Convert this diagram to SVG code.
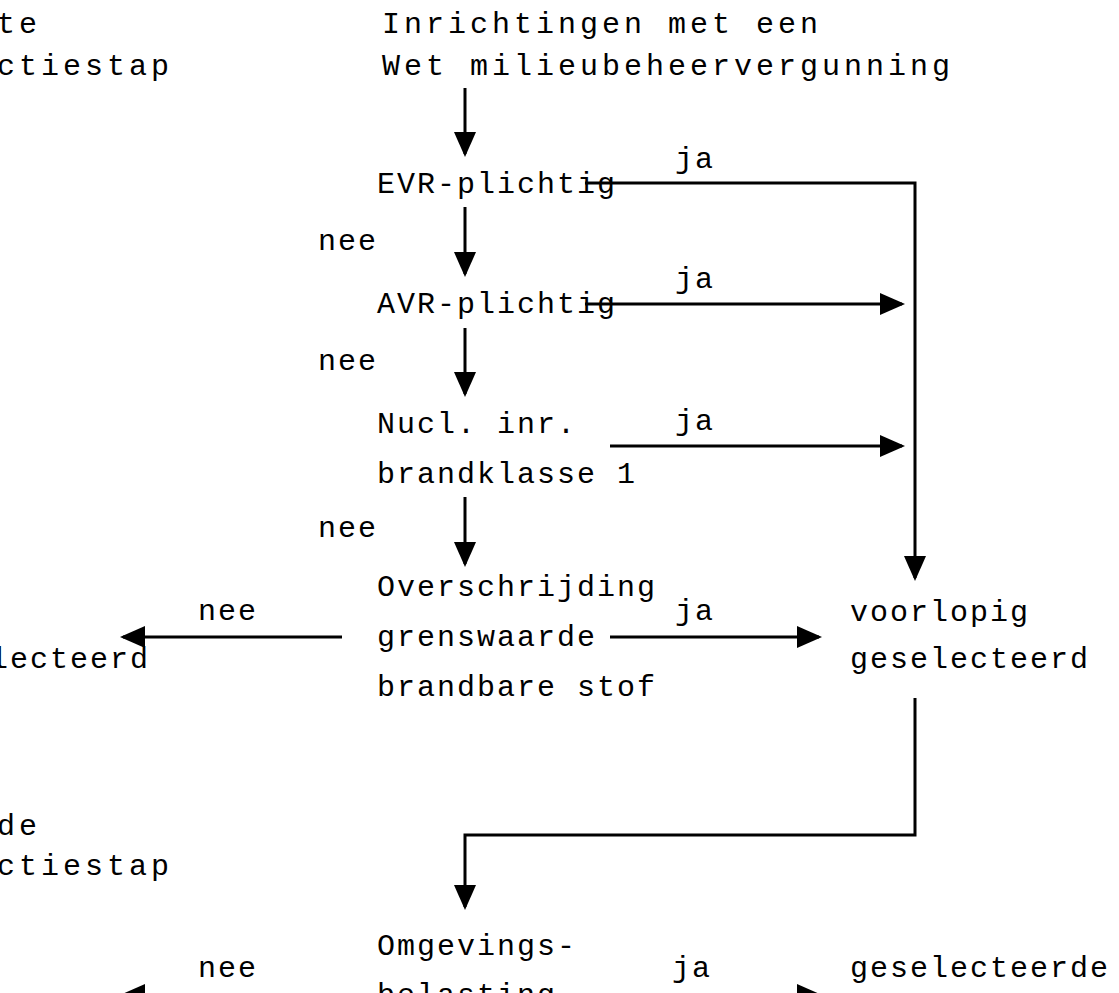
<svg xmlns="http://www.w3.org/2000/svg" width="1119" height="993" viewBox="0 0 1119 993">
<style>
.t{font-family:"Liberation Mono","Courier New",monospace;font-size:30px;letter-spacing:2px;fill:#000}
.w{letter-spacing:4px}
.c{stroke:#000;stroke-width:3;fill:none}
</style>
<defs>
<marker id="ah" markerUnits="userSpaceOnUse" markerWidth="26" markerHeight="22" refX="22" refY="11" orient="auto">
<path d="M0,0 L25,11 L0,22 z" fill="#000"/>
</marker>
</defs>
<rect width="1119" height="993" fill="#fff"/>
<g id="connectors">
<path class="c" marker-end="url(#ah)" d="M465,88 V154"/>
<path class="c" marker-end="url(#ah)" d="M465,207 V274"/>
<path class="c" marker-end="url(#ah)" d="M465,328 V394"/>
<path class="c" marker-end="url(#ah)" d="M465,497 V564"/>
<path class="c" marker-end="url(#ah)" d="M585,183 H915 V578"/>
<path class="c" marker-end="url(#ah)" d="M585,304 H902"/>
<path class="c" marker-end="url(#ah)" d="M610,446 H902"/>
<path class="c" marker-end="url(#ah)" d="M610,637 H819"/>
<path class="c" marker-end="url(#ah)" d="M342,637 H123"/>
<path class="c" marker-end="url(#ah)" d="M915,698 V835 H465 V907"/>
<path class="c" marker-end="url(#ah)" d="M342,995 H123"/>
<path class="c" marker-end="url(#ah)" d="M610,995 H819"/>
<text class="t" x="675" y="168">ja</text>
<text class="t" x="675" y="288">ja</text>
<text class="t" x="675" y="430">ja</text>
<text class="t" x="675" y="620">ja</text>
<text class="t" x="672" y="977">ja</text>
<text class="t" x="318" y="250">nee</text>
<text class="t" x="318" y="370">nee</text>
<text class="t" x="318" y="537">nee</text>
<text class="t" x="198" y="620">nee</text>
<text class="t" x="198" y="977">nee</text>
</g>
<g id="n-step1">
<text class="t w" x="-3" y="33">te</text>
<text class="t w" x="-3" y="75">ctiestap</text>
</g>
<g id="n-start">
<text class="t w" x="382" y="33">Inrichtingen met een</text>
<text class="t w" x="382" y="75">Wet milieubeheervergunning</text>
</g>
<g id="n-evr">
<text class="t" x="377" y="193">EVR-plichtig</text>
</g>
<g id="n-avr">
<text class="t" x="377" y="313">AVR-plichtig</text>
</g>
<g id="n-nucl">
<text class="t" x="377" y="433">Nucl. inr.</text>
<text class="t" x="377" y="483">brandklasse 1</text>
</g>
<g id="n-overschrijding">
<text class="t" x="377" y="596">Overschrijding</text>
<text class="t" x="377" y="646">grenswaarde</text>
<text class="t" x="377" y="696">brandbare stof</text>
</g>
<g id="n-niet">
<text class="t" x="-10" y="668">lecteerd</text>
</g>
<g id="n-voorlopig">
<text class="t" x="850" y="621">voorlopig</text>
<text class="t" x="850" y="668">geselecteerd</text>
</g>
<g id="n-step2">
<text class="t w" x="-3" y="835">de</text>
<text class="t w" x="-3" y="875">ctiestap</text>
</g>
<g id="n-omgeving">
<text class="t" x="377" y="955">Omgevings-</text>
<text class="t" x="377" y="1004">belasting</text>
</g>
<g id="n-geselecteerde">
<text class="t" x="850" y="977">geselecteerde</text>
</g>
</svg>
